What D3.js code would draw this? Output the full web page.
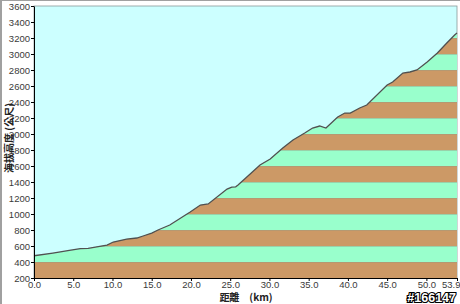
<!DOCTYPE html>
<meta charset="utf-8">
<script src="https://d3js.org/d3.v7.min.js"></script>
<style>
  body { margin: 0; background: #fff; }
</style>
<div class="profile-chart"></div>

<script>
    // distance (km) and elevation (m)
    var distKm = [0, 2.4, 4.5, 5.9, 6.9, 8.0, 9.3, 10.1, 11.8, 13.1, 13.9, 15.0, 15.8, 17.3,
        19.9, 21.2, 22.2, 24.6, 25.2, 25.7, 26.0, 28.8, 30.1, 31.7, 33.0, 34.5, 35.5, 36.4,
        37.2, 38.7, 39.6, 40.3, 41.5, 42.4, 45.0, 45.7, 47.0, 47.9, 48.8, 50.1, 51.4, 52.6,
        53.6, 53.9];
    var elevM = [478, 512, 545, 568, 570, 590, 612, 650, 687, 700, 725, 762, 800, 862,
        1025, 1112, 1125, 1312, 1337, 1340, 1362, 1612, 1687, 1825, 1925, 2012, 2075, 2100,
        2075, 2212, 2262, 2262, 2325, 2362, 2612, 2650, 2762, 2775, 2800, 2900, 3012, 3137,
        3237, 3262];

    var xTicks = [0, 5, 10, 15, 20, 25, 30, 35, 40, 45, 50, 53.9];
    var yTicks = [200, 400, 600, 800, 1000, 1200, 1400, 1600, 1800, 2000, 2200, 2400,
        2600, 2800, 3000, 3200, 3400, 3600];

    var width = 460, height = 304;
    var margin = { top: 6, right: 3, bottom: 26, left: 34 };

    var x = d3.scaleLinear().domain([0, 53.9]).range([margin.left, width - margin.right]);
    var y = d3.scaleLinear().domain([200, 3600]).range([height - margin.bottom, margin.top]);

    var data = distKm.map(function(d, i) { return { km: d, m: elevM[i] }; });

    var svg = d3.select(".profile-chart").append("svg")
        .attr("width", width)
        .attr("height", height);

    // outer frame (top + left gray edge)
    svg.append("rect").attr("x", 0).attr("y", 0).attr("width", width).attr("height", 1).attr("fill", "#a0a0a0");
    svg.append("rect").attr("x", 0).attr("y", 0).attr("width", 2).attr("height", height).attr("fill", "#a0a0a0");

    // sky
    svg.append("rect")
        .attr("x", x(0))
        .attr("y", y(3600))
        .attr("width", x(53.9) - x(0))
        .attr("height", y(200) - y(3600))
        .attr("fill", "#ccffff")
        .attr("stroke", "#8a9a9a")
        .attr("stroke-width", 0.8);

    var area = d3.area()
        .x(function(d) { return x(d.km); })
        .y0(y(200))
        .y1(function(d) { return y(d.m); });

    svg.append("clipPath").attr("id", "ground")
        .append("path")
        .datum(data)
        .attr("d", area);

    // alternating elevation bands under the profile
    var bands = svg.append("g").attr("clip-path", "url(#ground)");
    bands.selectAll("rect")
        .data(yTicks.slice(0, -1))
        .enter()
        .append("rect")
        .attr("x", x(0))
        .attr("width", x(53.9) - x(0))
        .attr("y", function(d) { return y(d + 200); })
        .attr("height", function(d) { return y(d) - y(d + 200); })
        .attr("fill", function(d, i) { return i % 2 === 0 ? "#cc9966" : "#99ffcc"; });

    bands.selectAll("line")
        .data(yTicks.slice(1, -1))
        .enter()
        .append("line")
        .attr("x1", x(0)).attr("x2", x(53.9))
        .attr("y1", function(d) { return y(d) + 0.5; })
        .attr("y2", function(d) { return y(d) + 0.5; })
        .attr("stroke", "#9a9a80")
        .attr("stroke-opacity", 0.45);

    svg.append("path")
        .datum(data)
        .attr("fill", "none")
        .attr("stroke", "#505050")
        .attr("stroke-width", 1.3)
        .attr("d", d3.line()
            .x(function(d) { return x(d.km); })
            .y(function(d) { return y(d.m); }));

    var yAxis = svg.append("g")
        .attr("transform", "translate(" + margin.left + ",0)")
        .call(d3.axisLeft(y).tickValues(yTicks).tickSize(3).tickPadding(1).tickSizeOuter(0)
            .tickFormat(d3.format("d")));

    var xAxis = svg.append("g")
        .attr("transform", "translate(0," + (height - margin.bottom) + ")")
        .call(d3.axisBottom(x).tickValues(xTicks).tickSize(3).tickPadding(0).tickSizeOuter(0)
            .tickFormat(d3.format(".1f")));

    svg.selectAll(".tick text")
        .attr("font-family", "'Liberation Sans Narrow', 'Liberation Sans', sans-serif")
        .attr("font-size", "9.5px")
        .attr("fill", "#3a3a3a");
    svg.selectAll(".domain").attr("stroke", "#000");
    svg.selectAll(".tick line").attr("stroke", "#000");

    // last distance label sits flush against the right edge
    xAxis.selectAll(".tick text")
        .filter(function(d) { return d === 53.9; })
        .attr("text-anchor", "end")
        .attr("x", 3);

    svg.append("text")
        .attr("transform", "translate(12.5,138) rotate(-90)")
        .attr("text-anchor", "middle")
        .attr("font-family", "'Noto Sans CJK TC', sans-serif")
        .attr("font-size", "10px")
        .attr("font-weight", "bold")
        .attr("fill", "#222")
        .text("海拔高度 (公尺)");

    svg.append("text")
        .attr("x", 246)
        .attr("y", 301)
        .attr("text-anchor", "middle")
        .attr("font-family", "'Noto Sans CJK TC', sans-serif")
        .attr("font-size", "10px")
        .attr("font-weight", "bold")
        .attr("fill", "#222")
        .text("距離　(km)");

    svg.append("text")
        .attr("x", 456)
        .attr("y", 302)
        .attr("text-anchor", "end")
        .attr("font-family", "'Liberation Sans', sans-serif")
        .attr("font-size", "12.5px")
        .attr("font-weight", "bold")
        .attr("fill", "#fff")
        .attr("stroke", "#000")
        .attr("stroke-width", 2.2)
        .attr("paint-order", "stroke")
        .text("#166147");
</script>
